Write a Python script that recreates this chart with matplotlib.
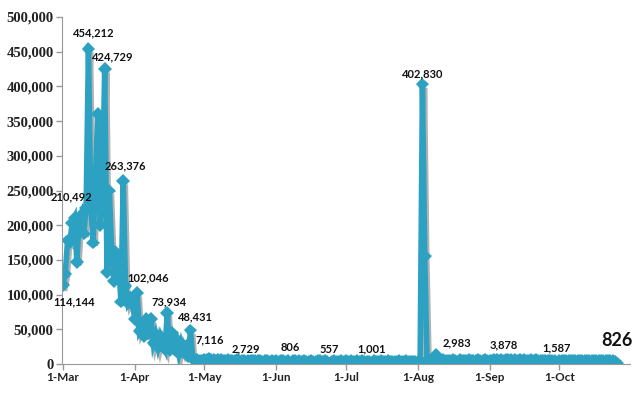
import pandas as pd
import matplotlib
matplotlib.use("Agg")
from matplotlib import pyplot as plt
import matplotlib.dates as mdates
import matplotlib.patheffects as pe

# daily counts, one list per month (Mar 1 .. Oct 26)
mar = [114144, 130000, 178000, 176000, 203000, 210492, 147000, 205000, 215000, 188000,
       225000, 454212, 230000, 175000, 265000, 360000, 200000, 240000, 424729, 132000,
       250000, 165000, 120000, 160000, 145000, 90000, 263376, 112000, 88000, 95000,
       85000]
apr = [65000, 102046, 48000, 55000, 40000, 65000, 45000, 65000, 30000, 42000,
       25000, 40000, 30000, 22000, 73934, 20000, 45000, 28000, 35000, 15000,
       30000, 18000, 25000, 12000, 48431, 7116, 6000, 5500, 5000, 4800]
may = [6500, 5800, 7200, 5400, 6100, 4900, 5600, 6300, 4700, 5200,
       5900, 4400, 5100, 4800, 5500, 4200, 4900, 3800, 2729, 4600,
       5200, 4300, 3900, 4700, 4100, 3600, 4400, 5000, 3700, 4200,
       3500]
jun = [4100, 3600, 4500, 3900, 3300, 4200, 806, 3800, 4400, 3500,
       4000, 3200, 4300, 3700, 3400, 4100, 3600, 3000, 3900, 4200,
       3300, 3800, 3500, 557, 3700, 4000, 3100, 3600, 3900, 3400]
jul = [3800, 3300, 4100, 3600, 3200, 3900, 3500, 4200, 3100, 3700,
       3400, 1001, 3800, 3300, 3600, 4000, 3200, 3500, 3900, 3000,
       3700, 3400, 3100, 3800, 3600, 3300, 3900, 3200, 3500, 3700,
       3400]
aug = [3600, 4200, 402830, 155000, 3800, 4500, 5200, 6800, 12500, 5400,
       4800, 5600, 4300, 5000, 4600, 5300, 4900, 2983, 5500, 4700,
       5100, 4400, 5800, 4900, 5200, 4600, 5400, 5000, 4500, 5300,
       4800]
sep = [5200, 4700, 5500, 6100, 5000, 5800, 3878, 6400, 5300, 5900,
       4800, 5600, 5100, 5400, 4900, 5700, 5000, 4600, 5300, 4800,
       5500, 4400, 5100, 4700, 5200, 4500, 4900, 4300, 4800, 1587]
oct_ = [4600, 5100, 4400, 4900, 4200, 4700, 5000, 4300, 4800, 4100,
        4500, 4900, 4000, 4600, 4300, 4700, 3900, 4400, 4200, 4600,
        3800, 4300, 4000, 4500, 3700, 826]

months = [("2014-03-01", mar), ("2014-04-01", apr), ("2014-05-01", may),
          ("2014-06-01", jun), ("2014-07-01", jul), ("2014-08-01", aug),
          ("2014-09-01", sep), ("2014-10-01", oct_)]

# labelled points: date, offset of the label in pixels (dx, dy), font size
labels = [
    ("2014-03-01", 11, -17, 8),
    ("2014-03-06", -3, 21, 8),
    ("2014-03-12", 5, 16, 8),
    ("2014-03-19", 8, 12, 8),
    ("2014-03-27", 2, 15, 8),
    ("2014-04-02", 11, 15, 8),
    ("2014-04-15", 2, 11, 8),
    ("2014-04-25", 5, 14, 8),
    ("2014-04-26", 17, 19, 8),
    ("2014-05-19", 0, 13, 8),
    ("2014-06-07", 0, 16, 8),
    ("2014-06-24", 0, 14, 8),
    ("2014-07-12", 0, 14, 8),
    ("2014-08-03", 0, 11, 8),
    ("2014-08-18", 0, 19, 8),
    ("2014-09-07", 0, 16, 8),
    ("2014-09-30", 0, 15, 8),
    ("2014-10-26", 0, 23, 13),
]

series = pd.concat(
    [pd.Series(vals, index=pd.date_range(start, periods=len(vals), freq="D"))
     for start, vals in months]
)

color = "#2DA1C1"
fig = plt.figure(figsize=(6.4, 3.94), dpi=100)
ax = fig.add_axes([62 / 640, 30 / 394, 568 / 640, 347 / 394])

ax.plot(series.index, series.values, color=color, linewidth=4,
        marker="D", markersize=7, markeredgewidth=0, solid_joinstyle="miter",
        path_effects=[pe.SimpleLineShadow(offset=(1.5, -2.5), alpha=0.3),
                      pe.Normal()])

for date, dx, dy, size in labels:
    d = pd.Timestamp(date)
    v = series[d]
    ax.annotate(f"{v:,}", xy=(d, v), xytext=(dx, dy), textcoords="offset pixels",
                ha="center", va="center", fontsize=size, fontweight="bold",
                family="Lato", color="#111111", annotation_clip=False)

start = pd.Timestamp("2014-03-01")
ax.set_xlim(start - pd.Timedelta(days=0.4), start + pd.Timedelta(days=244.5))
ax.set_ylim(0, 500000)
ax.set_yticks(range(0, 500001, 50000))
ax.yaxis.set_major_formatter(matplotlib.ticker.FuncFormatter(lambda v, p: f"{int(v):,}"))
ax.xaxis.set_major_locator(mdates.MonthLocator())
ax.xaxis.set_major_formatter(mdates.DateFormatter("%-d-%b"))

for s in ["top", "right"]:
    ax.spines[s].set_visible(False)
for s in ["left", "bottom"]:
    ax.spines[s].set_color("#999999")
ax.tick_params(axis="both", colors="#999999", length=4, width=1)
for t in ax.get_yticklabels():
    t.set_family("Liberation Serif")
    t.set_fontweight("bold")
    t.set_fontsize(10.5)
    t.set_color("#222222")
for t in ax.get_xticklabels():
    t.set_family("Lato")
    t.set_fontweight("bold")
    t.set_fontsize(8.5)
    t.set_color("#222222")
ax.tick_params(axis="x", pad=2)
ax.tick_params(axis="y", pad=2)

fig.savefig("out.png", dpi=100)
